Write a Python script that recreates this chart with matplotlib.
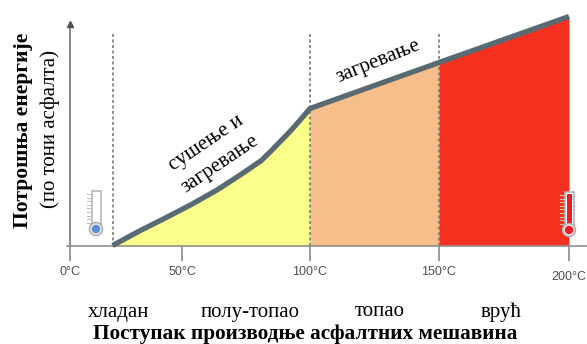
import matplotlib
matplotlib.use('Agg')
import matplotlib.pyplot as plt
import numpy as np
from matplotlib.patches import Circle, Rectangle
from matplotlib.transforms import Affine2D

plt.rcParams['font.family'] = ['Liberation Serif', 'DejaVu Serif']

# температура и потрошња енергије (очитано са слике)
temps = [19, 31, 43, 54, 64, 73, 77, 81, 84, 88, 92, 96, 100, 125, 150, 175, 200]
energy = [0, 14.5, 28, 41.5, 56, 71, 78, 85, 92.5, 103, 113.5, 125, 137, 160, 183, 206, 229]

zone_limits = [(19, 100), (100, 150), (150, 200)]
zone_colors = ['#faff8a', '#f6be8a', '#f5301e']
divider_temps = [19, 100, 150]

tick_temps = [0, 50, 100, 150, 200]
tick_labels = ['0°C', '50°C', '100°C', '150°C', '200°C']
zone_names = ['хладан', 'полу-топао', 'топао', 'врућ']

# скала температуре на слици није равномерна
scale_temps = [-31.25, 0, 50, 100, 150, 200, 207]
scale_px = [0, 70, 182, 310, 439, 569, 587]


def to_px(t):
    return np.interp(t, scale_temps, scale_px)


def from_px(p):
    return np.interp(p, scale_px, scale_temps)


fig = plt.figure(figsize=(5.87, 3.44), dpi=100)
ax = fig.add_axes([0, 0, 1, 1])
ax.patch.set_alpha(0)
ax.set_xscale('function', functions=(to_px, from_px))
ax.set_xlim(-31.25, 207)
ax.set_ylim(-98.5, 245.5)

# координате у пикселима слике, за натписе и термометре
px = Affine2D().scale(1, -1).translate(0, 344)

for (lo, hi), col in zip(zone_limits, zone_colors):
    xs = np.array(temps)
    ax.fill_between(xs, energy, 0, where=(xs >= lo) & (xs <= hi), color=col, lw=0, zorder=1)

for t in divider_temps:
    ax.plot([t, t], [0, 213], color='#707070', lw=1.1, ls=(0, (2, 1.6)), zorder=2)

ax.plot(temps, energy, color='#5a6a72', lw=3.8, solid_joinstyle='round', solid_capstyle='butt', zorder=3)

for s in ['top', 'right']:
    ax.spines[s].set_visible(False)
ax.spines['left'].set_position(('data', 0))
ax.spines['bottom'].set_position(('data', 0))
ax.spines['left'].set_bounds(0, 220)
ax.spines['bottom'].set_bounds(-1.5, 207)
ax.spines['left'].set_color('#808080')
ax.spines['left'].set_linewidth(1.3)
ax.spines['bottom'].set_color('#909090')
ax.spines['bottom'].set_linewidth(1.2)
ax.set_yticks([])
ax.minorticks_off()
ax.set_xticks(tick_temps, tick_labels, fontsize=9, family='Liberation Sans', color='#505050')
ax.tick_params(axis='x', length=10.5, width=1.1, color='#808080', pad=4)
ax.xaxis.get_major_ticks()[-1].set_pad(8)
ax.plot([0], [222], marker='^', ms=5, color='#505050', zorder=4)


def thermometer(cx, top, bottom, fill, tube_fill):
    tube = Rectangle((cx - 4.5, top), 9, bottom - top, fc='white', ec='#b0b0b0', lw=1.1, transform=px, zorder=5)
    ax.add_patch(tube)
    if tube_fill:
        ax.add_patch(Rectangle((cx - 2.5, top + 2), 5, bottom - top, fc=fill, lw=0, transform=px, zorder=6))
    for y in np.arange(top + 3, bottom, 3.6):
        ax.add_line(plt.Line2D([cx - 9, cx - 5], [y, y], color='#c0c0c0', lw=0.8, transform=px, zorder=5))
    ax.add_patch(Circle((cx, bottom + 4), 6.5, fc='#e8e8e8', ec='#a8a8a8', lw=1.0, transform=px, zorder=7))
    ax.add_patch(Circle((cx, bottom + 4), 4.2, fc=fill, lw=0, transform=px, zorder=8))


thermometer(96, 191, 225, '#5b8fd0', False)
thermometer(569, 192, 226, '#ee1c25', True)

ax.text(23, 130, 'Потрошња енергије', transform=px, rotation=90, ha='center', va='center', fontsize=15.5, fontweight='bold')
ax.text(50, 129, '(по тони асфалта)', transform=px, rotation=90, ha='center', va='center', fontsize=15)

ax.text(206, 143, 'сушење и', transform=px, rotation=34, rotation_mode='anchor', ha='center', va='center', fontsize=15)
ax.text(220, 164, 'загревање', transform=px, rotation=34, rotation_mode='anchor', ha='center', va='center', fontsize=15)
ax.text(378, 61, 'загревање', transform=px, rotation=22, rotation_mode='anchor', ha='center', va='center', fontsize=15)

for x, name in zip([119, 250, 380, 501], zone_names):
    ax.text(x, 312, name, transform=px, ha='center', va='center', fontsize=15)
ax.text(305, 333.5, 'Поступак производње асфалтних мешавина', transform=px, ha='center', va='center', fontsize=15.3, fontweight='bold')

fig.savefig('out.png', dpi=100)
